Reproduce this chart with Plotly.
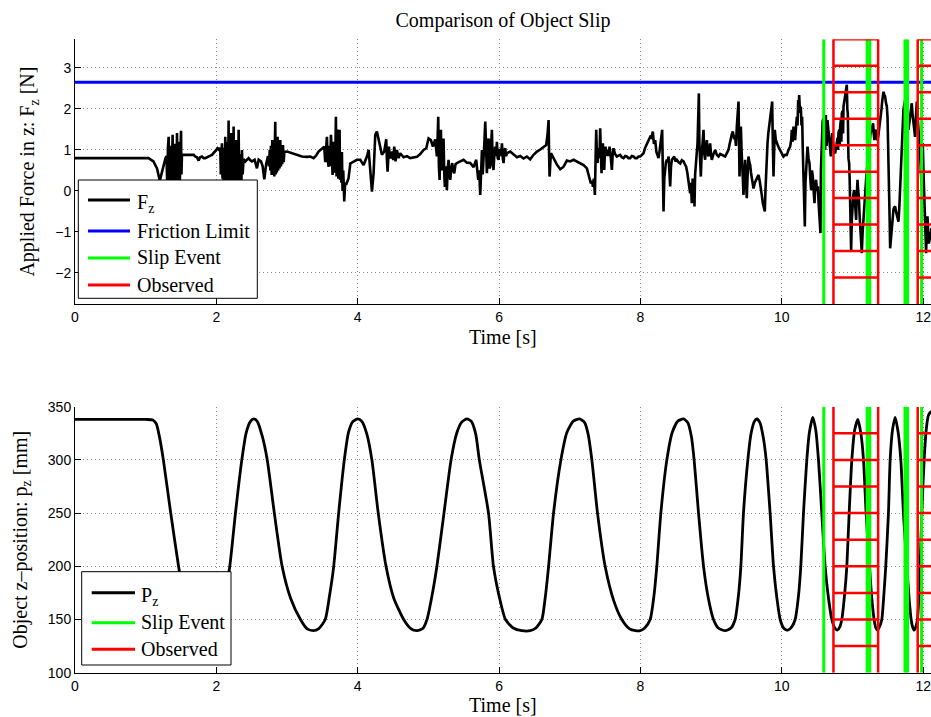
import plotly.graph_objects as go

# ---------------------------------------------------------------- data
# Applied force F_z [N] sampled over time [s]  (time, force)
fz_samples = [
    (0.00, 0.80), (1.04, 0.80), (1.11, 0.72), (1.16, 0.55), (1.20, 0.25), (1.23, 0.45), (1.25, 0.63), (1.28, 0.80),
    (1.295, 0.85), (1.305, 0.15), (1.315, 1.05), (1.325, 1.32), (1.333, 0.20), (1.342, 1.10), (1.350, 0.05),
    (1.358, 0.95), (1.366, 0.15), (1.374, 1.20), (1.381, 1.37), (1.389, 0.25), (1.397, 1.15), (1.405, 0.05),
    (1.413, 1.00), (1.421, 0.20), (1.429, 1.15), (1.436, 0.10), (1.443, 1.41), (1.451, 0.25), (1.459, 1.20),
    (1.467, 0.10), (1.475, 1.05), (1.483, 0.20), (1.491, 1.25), (1.500, 1.47), (1.506, 0.40), (1.513, 0.88),
    (1.60, 0.88), (1.68, 0.88), (1.70, 0.84), (1.725, 0.82), (1.749, 0.74), (1.77, 0.82), (1.796, 0.84),
    (1.82, 0.80), (1.843, 0.80), (1.87, 0.83), (1.89, 0.84), (1.915, 0.86), (1.938, 0.88), (1.96, 0.92),
    (1.985, 0.96), (2.018, 1.04), (2.04, 1.00),
    (2.055, 1.05), (2.063, 0.40), (2.071, 0.95), (2.079, 1.16), (2.087, 0.30), (2.095, 1.00), (2.103, 0.10),
    (2.111, 1.05), (2.118, 0.20), (2.126, 1.32), (2.134, 0.05), (2.142, 1.10), (2.150, -0.20), (2.158, 1.20),
    (2.165, -0.10), (2.173, 1.72), (2.180, -0.30), (2.188, 1.20), (2.196, -0.40), (2.206, 1.41), (2.214, -0.20),
    (2.222, 1.15), (2.230, -0.35), (2.237, 1.05), (2.244, 1.57), (2.252, -0.30), (2.260, 1.00), (2.268, -0.25),
    (2.275, 1.10), (2.282, 1.24), (2.290, -0.10), (2.298, 0.95), (2.306, 0.00), (2.315, 1.49), (2.323, 0.10),
    (2.331, 0.90), (2.339, 0.15), (2.347, 0.85), (2.355, 0.25), (2.362, 1.00), (2.372, 0.40), (2.385, 0.78),
    (2.409, 0.72), (2.435, 0.78), (2.456, 0.80), (2.48, 0.75), (2.503, 0.72), (2.541, 0.76), (2.574, 0.55),
    (2.598, 0.76), (2.631, 0.72), (2.655, 0.60), (2.678, 0.28), (2.706, 0.67), (2.73, 0.85),
    (2.745, 0.60), (2.755, 1.00), (2.763, 0.50), (2.772, 1.10), (2.782, 0.39), (2.791, 1.24), (2.800, 0.45),
    (2.810, 1.05), (2.820, 0.35), (2.827, 1.30), (2.833, 1.69), (2.840, 0.40), (2.848, 1.10), (2.856, 0.45),
    (2.866, 1.32), (2.874, 0.50), (2.884, 1.05), (2.893, 0.55), (2.904, 1.24), (2.913, 0.60), (2.923, 1.00),
    (2.932, 0.65), (2.942, 1.12), (2.952, 0.70), (2.962, 0.95),
    (3.00, 0.96), (3.07, 0.92), (3.14, 0.88), (3.21, 0.84), (3.28, 0.83), (3.33, 0.84), (3.376, 0.80),
    (3.41, 0.86), (3.446, 0.96), (3.493, 1.04), (3.526, 1.08),
    (3.540, 0.70), (3.552, 1.10), (3.564, 1.32), (3.575, 0.75), (3.588, 0.59), (3.600, 1.10), (3.610, 0.60),
    (3.621, 1.37), (3.633, 0.50), (3.644, 0.39), (3.652, 1.00), (3.658, 1.20), (3.667, 0.45), (3.680, 0.55),
    (3.691, 1.81), (3.700, 0.35), (3.708, 1.10), (3.715, 1.50), (3.725, 0.30), (3.734, 0.90), (3.743, 1.49),
    (3.750, 0.27), (3.760, 0.80), (3.768, 0.20), (3.776, 0.95), (3.785, 0.00), (3.795, 0.50), (3.809, -0.26),
    (3.822, 0.20), (3.835, 0.15),
    (3.87, 0.31), (3.895, 0.67), (3.941, 0.71), (3.988, 0.76), (4.036, 0.76), (4.083, 0.63), (4.13, 0.84),
    (4.154, 1.00), (4.177, 0.51), (4.201, -0.02), (4.224, 0.43), (4.248, 1.37), (4.271, 1.45), (4.295, 1.24),
    (4.318, 1.00), (4.342, 0.88), (4.375, 0.96), (4.403, 1.26), (4.412, 0.80), (4.422, 0.47), (4.441, 1.08),
    (4.455, 0.85), (4.469, 0.80), (4.488, 0.96), (4.502, 0.75), (4.516, 1.08), (4.535, 0.72), (4.554, 1.00),
    (4.578, 0.80), (4.601, 0.92), (4.649, 0.82), (4.696, 0.85), (4.743, 0.80), (4.79, 0.82), (4.837, 0.83),
    (4.884, 0.90), (4.931, 1.00), (4.969, 1.04), (5.002, 1.28), (5.035, 1.24), (5.063, 1.08), (5.096, 1.26),
    (5.12, 0.84),
    (5.13, 1.30), (5.139, 1.81), (5.148, 0.60), (5.158, 0.27), (5.167, 1.00), (5.177, 1.49), (5.186, 0.50),
    (5.196, 0.76), (5.205, 1.10), (5.214, 1.28), (5.224, 0.40), (5.233, 0.10), (5.245, 0.60), (5.261, 0.02),
    (5.273, 0.55), (5.285, 0.76), (5.297, 0.40), (5.309, 0.27), (5.322, 0.55), (5.337, 0.68), (5.350, 0.50),
    (5.365, 0.43), (5.383, 0.65), (5.403, 0.68),
    (5.45, 0.72), (5.497, 0.76), (5.544, 0.69), (5.592, 0.68), (5.639, 0.58), (5.676, 0.76), (5.705, 0.27),
    (5.718, 0.50), (5.733, -0.10), (5.745, 0.40), (5.757, 1.00), (5.768, 0.40), (5.780, 0.68), (5.792, 1.20),
    (5.804, 1.69), (5.815, 0.60), (5.827, 0.43), (5.839, 1.00), (5.851, 1.28), (5.862, 0.55), (5.874, 0.59),
    (5.886, 1.10), (5.898, 1.49), (5.909, 0.70), (5.921, 0.51), (5.933, 0.90), (5.945, 1.08), (5.957, 0.85),
    (5.969, 1.20), (5.980, 0.80), (5.992, 0.76), (6.004, 1.00), (6.016, 1.00), (6.028, 0.85), (6.040, 1.16),
    (6.052, 0.80), (6.063, 0.68), (6.075, 1.00), (6.087, 1.04), (6.099, 0.85), (6.110, 0.92),
    (6.157, 0.96), (6.205, 0.88), (6.252, 0.82), (6.299, 0.85), (6.346, 0.79), (6.393, 0.84), (6.44, 0.77),
    (6.487, 0.88), (6.535, 0.96), (6.582, 1.01), (6.629, 1.08), (6.666, 1.12), (6.685, 1.37), (6.700, 1.73),
    (6.707, 0.90), (6.714, 0.35), (6.725, 0.70), (6.733, 0.92),
    (6.77, 0.80), (6.818, 0.64), (6.865, 0.53), (6.912, 0.59), (6.959, 0.74), (7.006, 0.72), (7.053, 0.76),
    (7.10, 0.72), (7.147, 0.68), (7.195, 0.63), (7.242, 0.55), (7.27, 0.35), (7.298, 0.18), (7.315, 0.25),
    (7.327, 0.10), (7.340, 0.30), (7.355, -0.10), (7.365, 0.80), (7.374, 1.49), (7.383, 0.90), (7.393, 0.68),
    (7.402, 1.00), (7.411, 1.04), (7.42, 0.80),
    (7.43, 1.53), (7.44, 0.90), (7.449, 0.43), (7.458, 0.95), (7.468, 1.16), (7.477, 0.80), (7.487, 0.51),
    (7.496, 0.90), (7.505, 1.08), (7.52, 0.85), (7.534, 1.00), (7.548, 0.85), (7.562, 1.08), (7.578, 0.85),
    (7.595, 0.51), (7.607, 0.90), (7.619, 1.04), (7.64, 0.90), (7.666, 0.84), (7.69, 0.86), (7.713, 0.88),
    (7.735, 0.82), (7.76, 0.80), (7.785, 0.85), (7.807, 0.84), (7.83, 0.80), (7.854, 0.80), (7.878, 0.85),
    (7.901, 0.84), (7.925, 0.80), (7.949, 0.80), (7.972, 0.84), (7.996, 0.84), (8.02, 0.88), (8.043, 0.92),
    (8.065, 1.05), (8.09, 1.16), (8.115, 1.25), (8.137, 1.32), (8.155, 1.30), (8.175, 1.45), (8.19, 1.15),
    (8.208, 1.24), (8.225, 0.95), (8.241, 0.84), (8.255, 0.80), (8.269, 0.96), (8.29, 1.30), (8.307, 1.49),
    (8.316, 0.50), (8.326, -0.50), (8.337, 0.30), (8.349, 0.59), (8.36, 0.70), (8.373, 0.76), (8.385, 0.70),
    (8.397, 0.84), (8.408, 0.50), (8.42, 0.11), (8.432, 0.60), (8.444, 0.76), (8.46, 0.80), (8.477, 0.84),
    (8.495, 0.72), (8.514, 0.76), (8.54, 0.70), (8.562, 0.67), (8.585, 0.75), (8.609, 0.72), (8.628, 0.65),
    (8.646, 0.59), (8.662, 0.45), (8.679, 0.27), (8.692, 0.10), (8.703, -0.06), (8.714, 0.20), (8.726, -0.30),
    (8.738, 0.30), (8.75, 0.11), (8.757, 0.20), (8.764, -0.38), (8.773, 0.40), (8.783, 0.76), (8.795, 0.90),
    (8.807, 1.16), (8.816, 1.60), (8.826, 2.38), (8.833, 1.20), (8.84, 0.76), (8.847, 0.50), (8.854, 0.35),
    (8.863, 0.80), (8.873, 1.08), (8.882, 1.30), (8.892, 1.49), (8.903, 0.90), (8.915, 0.76), (8.927, 1.10),
    (8.939, 1.24), (8.95, 0.95), (8.962, 0.84), (8.974, 1.05), (8.986, 1.16), (8.997, 0.90), (9.009, 0.76),
    (9.033, 0.90), (9.057, 1.00), (9.08, 0.88), (9.104, 0.84), (9.128, 0.90), (9.151, 0.88), (9.175, 0.86),
    (9.198, 0.84), (9.222, 0.92), (9.245, 1.00), (9.262, 1.15), (9.278, 1.32), (9.292, 1.38), (9.306, 1.45),
    (9.322, 1.30), (9.339, 1.32), (9.351, 1.10), (9.363, 1.57), (9.375, 1.90), (9.387, 2.18), (9.394, 1.20),
    (9.401, 0.35), (9.41, 0.90), (9.42, 1.57), (9.43, 1.00), (9.439, 0.76), (9.448, 0.30), (9.457, -0.10),
    (9.469, 0.40), (9.481, 0.76), (9.492, 0.30), (9.504, -0.18), (9.516, 0.40), (9.528, 0.84), (9.54, 0.70),
    (9.552, 0.63), (9.563, 0.45), (9.575, 0.27), (9.587, 0.15), (9.599, 0.06), (9.618, 0.20), (9.637, 0.27),
    (9.653, 0.35), (9.67, 0.39), (9.686, 0.25), (9.702, 0.11), (9.716, -0.10), (9.731, -0.30), (9.745, -0.40),
    (9.759, -0.50), (9.768, 0.00), (9.778, 0.51), (9.788, 0.90), (9.797, 1.16), (9.808, 1.40), (9.82, 1.57),
    (9.832, 1.70), (9.844, 1.81), (9.853, 2.00), (9.863, 2.18), (9.872, 1.20), (9.882, 0.35), (9.89, 0.90),
    (9.90, 1.49), (9.914, 1.25), (9.929, 1.16), (9.945, 1.10), (9.962, 1.04),
    (9.976, 1.00), (10.0, 0.92), (10.023, 0.84), (10.047, 0.88), (10.07, 0.88), (10.094, 1.00), (10.117, 1.08),
    (10.132, 1.24), (10.141, 1.49), (10.153, 1.20), (10.165, 1.57), (10.176, 1.35), (10.188, 1.24),
    (10.20, 1.55), (10.212, 1.81), (10.222, 1.60), (10.231, 2.22), (10.238, 1.90), (10.245, 2.34),
    (10.256, 1.95), (10.268, 2.06), (10.278, 1.60), (10.287, 1.81), (10.296, 1.00), (10.306, 0.43),
    (10.315, -0.20), (10.325, -0.87), (10.334, 0.20), (10.344, 0.51), (10.353, 1.00), (10.363, 1.08),
    (10.377, 0.80), (10.391, 0.67), (10.403, 0.30), (10.414, 0.02), (10.426, 0.50), (10.438, 0.35),
    (10.45, 0.00), (10.462, -0.30), (10.474, 0.20), (10.485, 0.27), (10.497, 0.00), (10.509, 0.11),
    (10.52, -0.30), (10.532, -0.62), (10.539, -0.85), (10.546, -1.03), (10.553, 0.50), (10.565, 1.49),
    (10.577, 1.70), (10.589, 1.77), (10.597, 1.20), (10.605, 1.80), (10.613, 1.00), (10.622, 1.85),
    (10.633, 1.10), (10.645, 1.73), (10.657, 1.45), (10.669, 1.24), (10.681, 1.05), (10.693, 0.84),
    (10.702, 1.20), (10.712, 1.41), (10.721, 1.20), (10.73, 1.08), (10.742, 0.95), (10.754, 0.92),
    (10.766, 1.05), (10.777, 1.16), (10.789, 1.30), (10.795, 1.00), (10.801, 1.41), (10.813, 1.50),
    (10.819, 1.10), (10.825, 1.57), (10.836, 1.75), (10.842, 1.20), (10.848, 1.89), (10.86, 1.95),
    (10.866, 1.40), (10.872, 2.06), (10.883, 2.20), (10.895, 2.30), (10.907, 2.45), (10.919, 2.59),
    (10.926, 2.00), (10.933, 1.89), (10.942, 0.80), (10.952, 0.67), (10.959, 0.30), (10.966, -0.14),
    (10.973, -0.80), (10.98, -1.44), (10.99, -0.70), (10.999, -0.30), (11.011, -0.10), (11.023, 0.02),
    (11.035, -0.30), (11.046, -0.46), (11.051, -0.71), (11.058, -0.20), (11.07, 0.27), (11.08, 0.00),
    (11.089, -0.14), (11.10, -0.60), (11.112, -1.11), (11.122, -1.30), (11.131, -1.52), (11.143, -1.00),
    (11.155, -0.62), (11.166, -0.38), (11.178, 0.02), (11.195, 0.35), (11.211, 0.67), (11.225, 0.95),
    (11.24, 1.16), (11.254, 1.40), (11.268, 1.49), (11.28, 1.60), (11.291, 1.65), (11.30, 1.40),
    (11.31, 1.24), (11.322, 1.45), (11.334, 1.49), (11.343, 1.30), (11.353, 1.24), (11.365, 1.35),
    (11.376, 1.49), (11.388, 1.60), (11.40, 1.81), (11.41, 2.00), (11.419, 2.18), (11.428, 2.30),
    (11.438, 2.42), (11.45, 2.35), (11.461, 2.30), (11.473, 2.15), (11.485, 2.06), (11.495, 1.80),
    (11.504, 1.24), (11.511, 0.60), (11.518, -0.14), (11.525, -0.70), (11.532, -1.40), (11.545, -1.10),
    (11.556, -0.80), (11.567, -0.60), (11.579, -0.45), (11.591, -0.40), (11.603, -0.38), (11.615, -0.50),
    (11.626, -0.60), (11.638, -0.70), (11.65, -0.75), (11.662, -0.40), (11.673, 0.02), (11.685, 0.60),
    (11.697, 1.24), (11.708, 1.70), (11.72, 1.98), (11.732, 2.10), (11.744, 2.22), (11.756, 2.00),
    (11.768, 1.89), (11.78, 1.70), (11.791, 1.49), (11.803, 1.70), (11.815, 1.89), (11.826, 2.00),
    (11.838, 2.14), (11.85, 1.85), (11.862, 1.65), (11.874, 1.50), (11.885, 1.32), (11.897, 1.80),
    (11.909, 2.18), (11.918, 1.89), (11.928, 1.65), (11.937, 1.50), (11.947, 1.32), (11.956, 0.90),
    (11.966, 0.51), (11.973, 0.20), (11.98, 0.02), (11.987, 0.60), (11.994, 1.16), (12.003, 0.50),
    (12.013, -0.14), (12.02, -0.60), (12.027, -0.95), (12.034, -1.20), (12.041, -1.52), (12.05, -0.90),
    (12.06, -0.62), (12.07, -1.00), (12.079, -1.28), (12.089, -1.20), (12.098, -1.11), (12.11, -0.95),
    (12.12, -0.90),
]

# Object z-position p_z [mm] over time [s]  (time, position)
pz_samples = [
    (0.00, 338), (1.00, 338), (1.10, 337.5), (1.15, 334), (1.20, 320), (1.25, 300), (1.35, 252), (1.465, 200),
    (1.55, 168), (1.65, 148), (1.75, 140.5), (1.85, 139.5), (1.95, 142), (2.05, 152), (2.12, 172), (2.19, 200),
    (2.27, 250), (2.36, 300), (2.42, 325), (2.48, 336), (2.53, 338.5), (2.58, 336), (2.65, 322), (2.72, 300),
    (2.82, 250), (2.93, 200), (3.05, 170), (3.19, 150), (3.28, 141.5), (3.37, 139.5), (3.45, 141.5),
    (3.54, 150), (3.60, 172), (3.66, 200), (3.73, 250), (3.81, 300), (3.87, 326), (3.93, 336), (4.00, 338.5),
    (4.06, 336), (4.13, 324), (4.20, 300), (4.29, 250), (4.40, 200), (4.51, 170), (4.65, 150), (4.75, 141.5),
    (4.84, 139.5), (4.92, 141.5), (4.98, 150), (5.05, 172), (5.12, 200), (5.22, 250), (5.32, 300),
    (5.40, 325), (5.47, 335.5), (5.545, 338.5), (5.61, 336), (5.67, 324), (5.72, 300), (5.85, 250),
    (5.92, 200), (6.00, 172), (6.09, 150), (6.20, 142), (6.32, 139.5), (6.44, 139.5), (6.52, 142),
    (6.605, 150), (6.655, 172), (6.70, 200), (6.77, 250), (6.874, 300), (6.96, 326), (7.05, 336.5),
    (7.137, 338.5), (7.21, 335), (7.26, 324), (7.312, 300), (7.392, 250), (7.50, 200), (7.62, 168),
    (7.736, 150), (7.84, 141.5), (7.93, 139.5), (7.996, 139.5), (8.06, 142), (8.137, 150), (8.19, 172),
    (8.231, 200), (8.288, 250), (8.373, 300), (8.45, 326), (8.53, 336.5), (8.609, 338.5), (8.67, 335),
    (8.72, 322), (8.759, 300), (8.821, 250), (8.892, 200), (8.96, 170), (9.033, 150), (9.10, 142),
    (9.198, 139.5), (9.28, 142), (9.339, 150), (9.385, 172), (9.42, 200), (9.457, 250), (9.519, 300),
    (9.565, 325), (9.61, 336), (9.646, 338.5), (9.69, 335), (9.74, 320), (9.778, 300), (9.834, 250),
    (9.882, 200), (9.93, 170), (9.976, 150), (10.03, 141.5), (10.085, 140), (10.14, 143), (10.188, 150),
    (10.235, 172), (10.268, 200), (10.306, 250), (10.353, 300), (10.39, 326), (10.438, 340), (10.48, 328),
    (10.518, 300), (10.565, 250), (10.612, 200), (10.66, 170), (10.707, 150), (10.75, 142), (10.787, 140),
    (10.82, 143), (10.848, 150), (10.89, 175), (10.919, 200), (10.952, 250), (10.99, 300), (11.03, 328),
    (11.075, 338), (11.12, 324), (11.155, 300), (11.192, 250), (11.24, 200), (11.27, 172), (11.305, 150),
    (11.33, 142), (11.353, 140), (11.38, 143), (11.414, 150), (11.445, 175), (11.47, 200), (11.508, 250),
    (11.532, 300), (11.565, 328), (11.603, 340), (11.645, 326), (11.683, 300), (11.72, 250), (11.768, 200),
    (11.80, 170), (11.829, 150), (11.85, 143), (11.871, 140), (11.895, 143), (11.918, 150), (11.94, 172),
    (11.956, 200), (11.98, 250), (12.013, 300), (12.045, 330), (12.074, 342), (12.11, 345), (12.15, 340),
]

friction_limit = 2.65                       # N
friction_span = [0.0, 12.2]                 # s
slip_event_times = [10.593, 11.207, 11.243, 11.742, 11.778, 11.977]   # s
observed_windows = [(10.73, 11.362), (11.922, 12.2)]                   # s
force_observed_levels = [-2.114, -1.468, -0.822, -0.176, 0.47, 1.116, 1.762, 2.408, 3.054, 3.70]
position_observed_levels = [125, 150, 175, 200, 225, 250, 275, 300, 325]

time_ticks = [0, 2, 4, 6, 8, 10, 12]
force_ticks = [-2, -1, 0, 1, 2, 3]
position_ticks = [100, 150, 200, 250, 300, 350]
time_range = [0, 12.11]
force_range = [-2.76, 3.70]
position_range = [100, 350]

# ---------------------------------------------------------------- figure
W, H = 931, 717
ML = 75
PW = W - ML

def px_x(px):
    return (px - ML) / PW

def px_y(py):
    return 1 - py / H

SERIF = "Liberation Serif, Times New Roman, serif"
SANS = "Liberation Sans, Arial, sans-serif"
BLACK, BLUE, GREEN, RED = "#000000", "#0000ff", "#00ff00", "#ff0000"

fz_t = [p[0] for p in fz_samples]
fz_v = [p[1] for p in fz_samples]
pz_t = [p[0] for p in pz_samples]
pz_v = [p[1] for p in pz_samples]


def vertical_lines(times, lo, hi):
    xs, ys = [], []
    for t in times:
        xs += [t, t, None]
        ys += [lo, hi, None]
    return xs, ys


def ladder(windows, levels, lo, hi):
    xs, ys = [], []
    for a, b in windows:
        xs += [a, a, None, b, b, None]
        ys += [lo, hi, None, lo, hi, None]
        for lv in levels:
            xs += [a, b, None]
            ys += [lv, lv, None]
    return xs, ys


fig = go.Figure()

# top panel: force, friction limit, slip events, observed windows
fig.add_trace(go.Scatter(x=fz_t, y=fz_v, mode="lines", line=dict(color=BLACK, width=2.6),
                         xaxis="x", yaxis="y", showlegend=False))
fig.add_trace(go.Scatter(x=friction_span, y=[friction_limit, friction_limit], mode="lines",
                         line=dict(color=BLUE, width=3), xaxis="x", yaxis="y", showlegend=False))
sx, sy = vertical_lines(slip_event_times, *force_range)
fig.add_trace(go.Scatter(x=sx, y=sy, mode="lines", line=dict(color=GREEN, width=3),
                         xaxis="x", yaxis="y", showlegend=False))
ox, oy = ladder(observed_windows, force_observed_levels, *force_range)
fig.add_trace(go.Scatter(x=ox, y=oy, mode="lines", line=dict(color=RED, width=2.5),
                         xaxis="x", yaxis="y", showlegend=False))

# bottom panel: position, slip events, observed windows
fig.add_trace(go.Scatter(x=pz_t, y=pz_v, mode="lines",
                         line=dict(color=BLACK, width=2.8, shape="spline", smoothing=0.6),
                         xaxis="x2", yaxis="y2", showlegend=False))
sx, sy = vertical_lines(slip_event_times, *position_range)
fig.add_trace(go.Scatter(x=sx, y=sy, mode="lines", line=dict(color=GREEN, width=3),
                         xaxis="x2", yaxis="y2", showlegend=False))
ox, oy = ladder(observed_windows, position_observed_levels, *position_range)
fig.add_trace(go.Scatter(x=ox, y=oy, mode="lines", line=dict(color=RED, width=2.5),
                         xaxis="x2", yaxis="y2", showlegend=False))

axis_style = dict(
    showline=True, linecolor="black", linewidth=1, mirror=False, automargin=False,
    ticks="inside", ticklen=6, tickwidth=1, tickcolor="black",
    showgrid=True, gridcolor="#8a8a8a", gridwidth=1, griddash="1px,3px",
    zeroline=False, ticklabeloverflow="allow",
    tickfont=dict(family=SANS, size=14, color="black"),
)

top_dom = [px_y(304), px_y(39.3)]
bot_dom = [px_y(672.7), px_y(406.7)]

fig.update_layout(
    template="none",
    width=W, height=H,
    margin=dict(l=ML, r=0, t=0, b=0, pad=0),
    paper_bgcolor="white", plot_bgcolor="white",
    showlegend=False,
    title=dict(text="Comparison of Object Slip", x=0.5, xref="paper", xanchor="center",
               y=1 - 20 / H, yref="container", yanchor="middle",
               font=dict(family=SERIF, size=20, color="black")),
    xaxis=dict(domain=[0, 1], anchor="y", range=time_range, tickvals=time_ticks, **axis_style),
    yaxis=dict(domain=top_dom, anchor="x", range=force_range, tickvals=force_ticks, **axis_style),
    xaxis2=dict(domain=[0, 1], anchor="y2", range=time_range, tickvals=time_ticks, **axis_style),
    yaxis2=dict(domain=bot_dom, anchor="x2", range=position_range, tickvals=position_ticks, **axis_style),
)

annotations = []
shapes = []

def text(x, y, s, **kw):
    d = dict(x=x, y=y, xref="paper", yref="paper", text=s, showarrow=False,
             font=dict(family=SERIF, size=20, color="black"))
    d.update(kw)
    annotations.append(d)

# axis titles
text(0.5, px_y(337), "Time [s]", xanchor="center", yanchor="middle")
text(0.5, px_y(705), "Time [s]", xanchor="center", yanchor="middle")
text(px_x(29), px_y(171.6), "Applied Force in z: F<sub>z</sub> [N]", textangle=-90,
     xanchor="center", yanchor="middle")
text(px_x(22), px_y(539.7), "Object z\u2013position: p<sub>z</sub> [mm]", textangle=-90,
     xanchor="center", yanchor="middle")

# legend boxes
def legend(box, entries, x0, x1, tx):
    shapes.append(dict(type="rect", xref="paper", yref="paper",
                       x0=px_x(box[0]), x1=px_x(box[2]), y0=px_y(box[3]), y1=px_y(box[1]),
                       fillcolor="white", line=dict(color="black", width=1), layer="above"))
    for label, color, ly, ty in entries:
        shapes.append(dict(type="line", xref="paper", yref="paper",
                           x0=px_x(x0), x1=px_x(x1), y0=px_y(ly), y1=px_y(ly),
                           line=dict(color=color, width=3), layer="above"))
        text(px_x(tx), px_y(ty), label, xanchor="left", yanchor="middle")

legend((78.3, 180, 257.3, 298.3), [
    ("F<sub>z</sub>", BLACK, 200, 203),
    ("Friction Limit", BLUE, 231, 231),
    ("Slip Event", GREEN, 258, 258),
    ("Observed", RED, 285, 285),
], 88, 130, 135)

legend((81.7, 571.7, 231, 665), [
    ("P<sub>z</sub>", BLACK, 592.7, 596),
    ("Slip Event", GREEN, 622.7, 622.7),
    ("Observed", RED, 649.3, 649.3),
], 91.7, 135, 138.5)

fig.update_layout(annotations=annotations, shapes=shapes)

fig.write_html("out.html")
